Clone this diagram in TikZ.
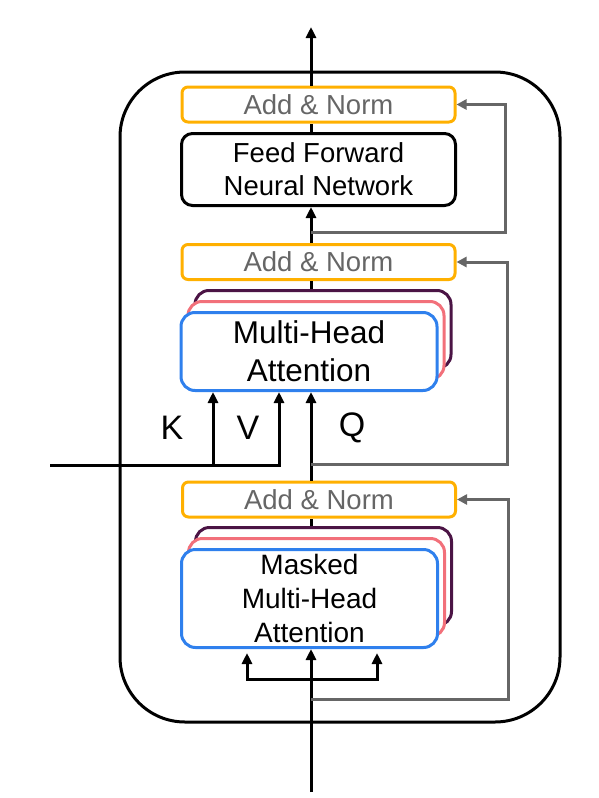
\documentclass[tikz,border=0pt]{standalone}
\usepackage{fontspec}
\setmainfont{Liberation Sans}
\usetikzlibrary{arrows.meta}
\definecolor{normorange}{HTML}{FFB000}
\definecolor{headblue}{HTML}{2F80ED}
\definecolor{headpink}{HTML}{F2707A}
\definecolor{headplum}{HTML}{4B1445}
\definecolor{resgray}{HTML}{666666}
\tikzset{
  addnorm/.style={rectangle, rounded corners=6pt, draw=normorange, fill=white, line width=3pt,
    minimum width=273pt, minimum height=35pt, inner sep=0pt, text=resgray,
    font=\fontsize{27.5}{30}\selectfont},
  ffnbox/.style={rectangle, rounded corners=11pt, draw=black, fill=white, line width=3pt,
    minimum width=274pt, minimum height=72pt, inner sep=0pt, align=center,
    font=\fontsize{27.5}{33}\selectfont},
  headfront/.style={rectangle, rounded corners=14pt, draw=headblue, fill=white, line width=3pt,
    minimum width=256pt, inner sep=0pt, align=center},
  headmid/.style={headfront, draw=headpink},
  headback/.style={headfront, draw=headplum},
  flow/.style={line width=3pt, black},
  flowarrow/.style={flow, -{Triangle[length=11pt,width=10pt]}},
  residual/.style={line width=3pt, resgray, -{Triangle[length=10pt,width=10pt]}},
  letter/.style={inner sep=0pt, font=\fontsize{34}{34}\selectfont}
}
\begin{document}
\begin{tikzpicture}[x=1pt, y=-1pt]
  \useasboundingbox (0,0) rectangle (598,798);
  % decoder block
  \draw[line width=3pt, rounded corners=65pt] (120,72) rectangle (560,722);

  % top sub-layer
  \node[addnorm] (addtop) at (318.5,104.5) {Add \& Norm};
  \node[ffnbox] (ffn) at (318.5,169.5) {Feed Forward\\Neural Network};

  % cross attention
  \node[addnorm] (addmid) at (318.5,262) {Add \& Norm};
  \node[headback, minimum height=78pt] (mhaC) at (323,329.5) {};
  \node[headmid, minimum height=78pt] (mhaB) at (316,340.5) {};
  \node[headfront, minimum height=78pt, font=\fontsize{31.5}{38}\selectfont] (mhaA) at (309,351.5) {Multi-Head\\Attention};

  % masked self attention
  \node[addnorm] (addbot) at (319,499.5) {Add \& Norm};
  \node[headback, minimum height=98pt] (mmhaC) at (323.5,576.5) {};
  \node[headmid, minimum height=98pt] (mmhaB) at (316.5,587.5) {};
  \node[headfront, minimum height=98pt, font=\fontsize{28}{34}\selectfont] (mmhaA) at (309.5,598.5) {Masked\\Multi-Head\\Attention};

  \node[letter] (klabel) at (172,428) {K};
  \node[letter] (vlabel) at (248,428) {V};
  \node[letter] (qlabel) at (352,428) {Q};

  \coordinate (out) at (311,27);
  \coordinate (in) at (311,792);
  \coordinate (enc) at (50,465);
  \coordinate (kx) at (213,465);
  \coordinate (vx) at (279,465);
  \coordinate (fork) at (311,679);
  \coordinate (maskL) at (247,653);
  \coordinate (maskR) at (377,653);
  \coordinate (restop) at (311,232);
  \coordinate (resmid) at (311,464);
  \coordinate (resbot) at (311,699);
  \coordinate (rtx) at (505,0);
  \coordinate (rmx) at (507,0);
  \coordinate (rbx) at (508,0);

  % main path
  \draw[flowarrow] (addtop.north -| out) -- (out);
  \draw[flow] (ffn.north -| out) -- (addtop.south -| out);
  \draw[flowarrow] (addmid.north -| out) -- (ffn.south -| out);
  \draw[flow] (mhaC.north -| out) -- (addmid.south -| out);
  \draw[flowarrow] (addbot.north -| out) -- (mhaA.south -| out);
  \draw[flow] (mmhaC.north -| out) -- (addbot.south -| out);
  \draw[flowarrow] (in) -- (mmhaA.south -| in);
  \draw[flowarrow] (fork) -| (maskL);
  \draw[flowarrow] (fork) -| (maskR);

  % encoder keys and values
  \draw[flowarrow] (enc) -| (mhaA.south -| vx);
  \draw[flowarrow] (kx) -- (mhaA.south -| kx);

  % residual connections
  \draw[residual] (restop) -| (addtop.east -| rtx) -- (addtop.east);
  \draw[residual] (resmid) -| (addmid.east -| rmx) -- (addmid.east);
  \draw[residual] (resbot) -| (addbot.east -| rbx) -- (addbot.east);
\end{tikzpicture}
\end{document}
